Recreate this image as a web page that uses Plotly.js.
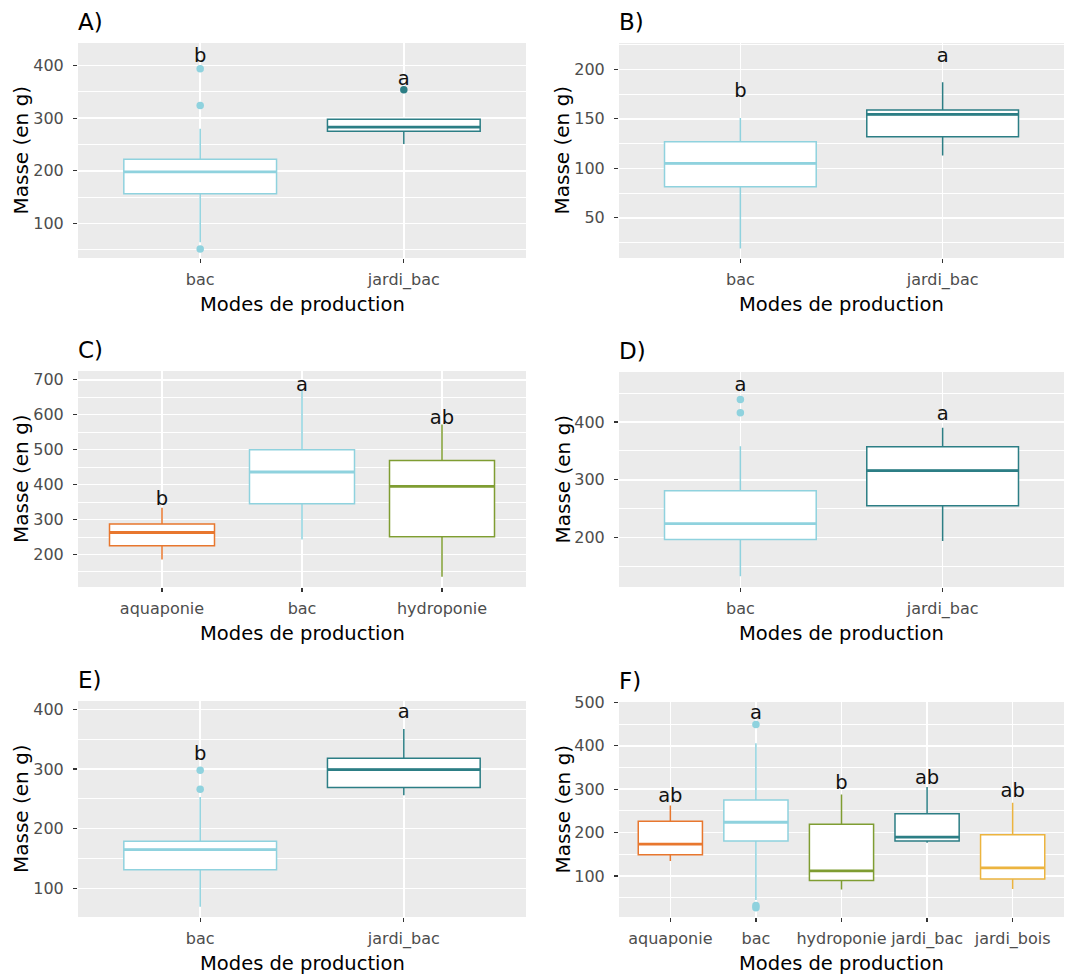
<!DOCTYPE html>
<html><head><meta charset="utf-8">
<script src="https://cdn.plot.ly/plotly-3.0.1.min.js"></script>
<style>html,body{margin:0;padding:0;background:#fff}#chart{width:1066px;height:978px}</style>
</head><body><div id="chart"></div>
<script>
// ---------- Panel A ----------
const catsA = ['bac', 'jardi_bac'];
const lowA = [64, 251];
const q1A = [156, 275];
const medA = [198, 283];
const q3A = [222, 298];
const highA = [280, 298];
const outCatA = ['bac', 'bac', 'bac', 'jardi_bac'];
const outValA = [51, 324, 394, 354];
const lettersA = ['b', 'a'];
const letterYA = [417, 373];

// ---------- Panel B ----------
const catsB = ['bac', 'jardi_bac'];
const lowB = [19, 113];
const q1B = [81.5, 132];
const medB = [105, 154.5];
const q3B = [127, 159];
const highB = [151, 187];
const outCatB = [];
const outValB = [];
const lettersB = ['b', 'a'];
const letterYB = [177, 212];

// ---------- Panel C ----------
const catsC = ['aquaponie', 'bac', 'hydroponie'];
const lowC = [186, 243, 136];
const q1C = [225, 345, 251];
const medC = [263, 436, 395];
const q3C = [287, 500, 469];
const highC = [334, 669, 572];
const outCatC = [];
const outValC = [];
const lettersC = ['b', 'a', 'ab'];
const letterYC = [355, 682, 587];

// ---------- Panel D ----------
const catsD = ['bac', 'jardi_bac'];
const lowD = [133, 194];
const q1D = [196.5, 255];
const medD = [224, 316];
const q3D = [281, 357];
const highD = [358, 390];
const outCatD = ['bac', 'bac'];
const outValD = [416, 439];
const lettersD = ['a', 'a'];
const letterYD = [462, 412];

// ---------- Panel E ----------
const catsE = ['bac', 'jardi_bac'];
const lowE = [69, 256];
const q1E = [131, 269];
const medE = [165, 299];
const q3E = [179, 318];
const highE = [253, 367];
const outCatE = ['bac', 'bac'];
const outValE = [266, 298];
const lettersE = ['b', 'a'];
const letterYE = [323, 393];

// ---------- Panel F ----------
const catsF = ['aquaponie', 'bac', 'hydroponie', 'jardi_bac', 'jardi_bois'];
const lowF = [134.5, 45, 69, 177, 70];
const q1F = [149, 180.5, 90, 180.5, 93];
const medF = [173.5, 224, 112, 189.5, 119];
const q3F = [226, 275.5, 219.5, 243.5, 195];
const highF = [262.5, 406, 288, 305, 269];
const outCatF = ['bac', 'bac', 'bac'];
const outValF = [27, 32, 449];
const lettersF = ['ab', 'a', 'b', 'ab', 'ab'];
const letterYF = [282, 472, 312, 324, 293];

const panelLabels = ['A)', 'B)', 'C)', 'D)', 'E)', 'F)'];
const xTitle = 'Modes de production';
const yTitle = 'Masse (en g)';

// ---------- styles / layout ----------
const colorOf = {
  aquaponie: '#E8772E',
  bac: '#8FD2DE',
  hydroponie: '#7F9D32',
  jardi_bac: '#2C7E85',
  jardi_bois: '#ECB43F'
};
const W = 1066, H = 978;
const FONT = 'DejaVu Sans, Arial, sans-serif';

const panels = [
  {cats: catsA, low: lowA, q1: q1A, med: medA, q3: q3A, high: highA, oc: outCatA, ov: outValA, let: lettersA, ly: letterYA,
   px: [78, 526], py: [43, 258], yr: [34, 443], dt: 100, mdt: 50},
  {cats: catsB, low: lowB, q1: q1B, med: medB, q3: q3B, high: highB, oc: outCatB, ov: outValB, let: lettersB, ly: letterYB,
   px: [619, 1064], py: [43, 258], yr: [9.4, 226.7], dt: 50, mdt: 25},
  {cats: catsC, low: lowC, q1: q1C, med: medC, q3: q3C, high: highC, oc: outCatC, ov: outValC, let: lettersC, ly: letterYC,
   px: [78, 526], py: [371, 587], yr: [107, 725], dt: 100, mdt: 50},
  {cats: catsD, low: lowD, q1: q1D, med: medD, q3: q3D, high: highD, oc: outCatD, ov: outValD, let: lettersD, ly: letterYD,
   px: [619, 1064], py: [372, 587], yr: [114.5, 486.5], dt: 100, mdt: 50},
  {cats: catsE, low: lowE, q1: q1E, med: medE, q3: q3E, high: highE, oc: outCatE, ov: outValE, let: lettersE, ly: letterYE,
   px: [78, 526], py: [701, 917], yr: [52, 414], dt: 100, mdt: 50},
  {cats: catsF, low: lowF, q1: q1F, med: medF, q3: q3F, high: highF, oc: outCatF, ov: outValF, let: lettersF, ly: letterYF,
   px: [619, 1064], py: [702, 917], yr: [5.7, 501], dt: 100, mdt: 50}
];

const traces = [];
const layout = {
  width: W, height: H,
  margin: {l: 0, r: 0, t: 0, b: 0},
  paper_bgcolor: '#ffffff',
  plot_bgcolor: '#EBEBEB',
  showlegend: false,
  font: {family: FONT},
  annotations: []
};
const HALF = 0.375;

panels.forEach((p, k) => {
  const sfx = k === 0 ? '' : String(k + 1);
  const xa = 'x' + sfx, ya = 'y' + sfx;
  const n = p.cats.length;
  const idx = p.cats.map((c, i) => i);

  p.cats.forEach((c, i) => {
    const col = colorOf[c];
    traces.push({
      type: 'box', x: [i], q1: [p.q1[i]], median: [p.med[i]], q3: [p.q3[i]],
      lowerfence: [p.low[i]], upperfence: [p.high[i]],
      width: 2 * HALF, whiskerwidth: 0, boxpoints: false,
      fillcolor: '#ffffff', line: {color: col, width: 1.5},
      xaxis: xa, yaxis: ya, hoverinfo: 'skip', showlegend: false
    });
    traces.push({
      type: 'scatter', mode: 'lines', x: [i - HALF, i + HALF], y: [p.med[i], p.med[i]],
      line: {color: col, width: 2.8}, xaxis: xa, yaxis: ya, hoverinfo: 'skip', showlegend: false
    });
  });

  if (p.oc.length) {
    traces.push({
      type: 'scatter', mode: 'markers',
      x: p.oc.map(c => p.cats.indexOf(c)), y: p.ov,
      marker: {size: 7.5, color: p.oc.map(c => colorOf[c])},
      xaxis: xa, yaxis: ya, hoverinfo: 'skip', showlegend: false
    });
  }

  traces.push({
    type: 'scatter', mode: 'text', x: idx, y: p.ly, text: p.let,
    textposition: 'middle center', textfont: {family: FONT, size: 19.5, color: '#111111'},
    xaxis: xa, yaxis: ya, hoverinfo: 'skip', showlegend: false, cliponaxis: false
  });

  const tickStyle = {
    ticks: 'outside', ticklen: 4, tickwidth: 1.2, tickcolor: '#333333',
    showline: false, zeroline: false, fixedrange: true
  };
  layout['xaxis' + sfx] = Object.assign({
    domain: [p.px[0] / W, p.px[1] / W], anchor: ya,
    type: 'linear', range: [-0.6, n - 0.4],
    tickmode: 'array', tickvals: idx, ticktext: p.cats, tickangle: 0,
    tickfont: {family: FONT, size: 16, color: '#4D4D4D'},
    ticklabelstandoff: 3,
    showgrid: true, gridcolor: '#ffffff', gridwidth: 1.6
  }, tickStyle);
  layout['yaxis' + sfx] = Object.assign({
    domain: [1 - p.py[1] / H, 1 - p.py[0] / H], anchor: xa,
    range: p.yr, tick0: 0, dtick: p.dt,
    tickfont: {family: FONT, size: 16, color: '#4D4D4D'},
    showgrid: true, gridcolor: '#ffffff', gridwidth: 1.6,
    minor: {tick0: 0, dtick: p.mdt, showgrid: true, gridcolor: '#ffffff', gridwidth: 1.0, ticks: ''},
    ticklabelstandoff: 6
  }, tickStyle);

  // panel label
  layout.annotations.push({
    xref: 'paper', yref: 'paper', x: (p.px[0] - 2) / W, y: 1 - (p.py[0] - 21) / H,
    xanchor: 'left', yanchor: 'middle', showarrow: false,
    text: panelLabels[k], font: {family: FONT, size: 23, color: '#000000'}
  });
  // x title
  layout.annotations.push({
    xref: 'paper', yref: 'paper', x: (p.px[0] + p.px[1]) / 2 / W, y: 1 - (p.py[1] + 46) / H,
    xanchor: 'center', yanchor: 'middle', showarrow: false,
    text: xTitle, font: {family: FONT, size: 19.5, color: '#000000'}
  });
  // y title
  layout.annotations.push({
    xref: 'paper', yref: 'paper', x: (p.px[0] - 57) / W, y: 1 - (p.py[0] + p.py[1]) / 2 / H,
    xanchor: 'center', yanchor: 'middle', showarrow: false, textangle: -90,
    text: yTitle, font: {family: FONT, size: 20, color: '#000000'}
  });
});

Plotly.newPlot('chart', traces, layout, {displayModeBar: false, staticPlot: true});
</script>
</body></html>
